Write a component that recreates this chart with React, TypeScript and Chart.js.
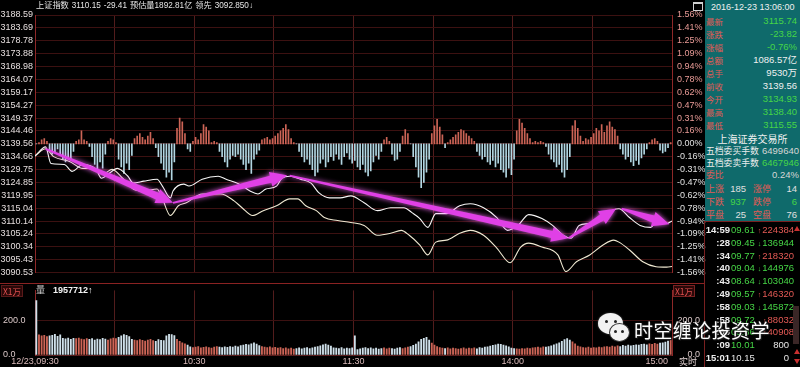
import React, { useEffect, useRef } from 'react';
import { Chart, registerables } from 'chart.js';

Chart.register(...registerables);

const FONT = '"Liberation Sans", "Noto Sans CJK SC", Arial, sans-serif';
const CJK = '"Noto Sans CJK SC", "Liberation Sans", sans-serif';
Chart.defaults.font.family = FONT;

// ---------- axes ----------
const priceTicks = [3188.59, 3183.69, 3178.78, 3173.88, 3168.98, 3164.07, 3159.17, 3154.27, 3149.37, 3144.46, 3139.56, 3134.66, 3129.75, 3124.85, 3119.95, 3115.04, 3110.14, 3105.24, 3100.34, 3095.43, 3090.53];
const pctLabels = ['1.56%', '1.41%', '1.25%', '1.09%', '0.94%', '0.78%', '0.62%', '0.47%', '0.31%', '0.16%', '0.00%', '-0.16%', '-0.31%', '-0.47%', '-0.62%', '-0.78%', '-0.94%', '-1.09%', '-1.25%', '-1.41%', '-1.56%'];
const gridMinutes = [0, 30, 60, 90, 120, 150, 180, 210, 240];
const timeMinutes = [0, 60, 120, 180, 240];
const timeLabels = ['12/23,09:30', '10:30', '11:30', '14:00', '15:00'];
const volTicks = [0, 200];
const volTickLabels = ['0.0', '200.0'];

// ---------- price lines (minute index from 09:30, price) ----------
const minutesA = [0, 4, 6, 11, 14, 18, 23, 25, 28, 31, 35, 37, 41, 46, 48, 51, 52, 56, 58, 63, 69, 72, 77, 81, 84, 87, 91, 93, 96, 100, 104, 107, 111, 115, 119, 124, 129, 134, 139, 142, 145, 148, 151, 155, 160, 164, 169, 174, 178, 182, 186, 191, 195, 199, 202, 205, 209, 213, 218, 220, 224, 228, 232, 234, 238, 240];
const priceA = [3134.93, 3138.40, 3132.07, 3131.70, 3129.08, 3131.70, 3129.83, 3126.46, 3128.33, 3130.20, 3127.21, 3124.59, 3125.34, 3126.09, 3123.47, 3118.97, 3121.59, 3124.21, 3123.47, 3126.09, 3127.21, 3126.09, 3124.21, 3121.59, 3120.47, 3122.34, 3123.47, 3126.46, 3127.21, 3126.09, 3124.59, 3120.85, 3118.97, 3118.97, 3119.72, 3117.10, 3114.11, 3115.23, 3115.23, 3113.36, 3111.11, 3107.74, 3112.99, 3112.99, 3115.98, 3116.73, 3115.23, 3111.49, 3106.62, 3108.49, 3112.61, 3111.11, 3108.49, 3104.75, 3103.63, 3108.49, 3109.24, 3111.49, 3114.48, 3114.86, 3111.49, 3108.49, 3107.74, 3109.62, 3109.20, 3110.15];
const minutesB = [0, 4, 7, 13, 18, 22, 26, 29, 33, 37, 41, 46, 48, 51, 54, 57, 63, 70, 75, 78, 82, 86, 91, 96, 99, 102, 106, 109, 114, 119, 124, 129, 134, 138, 141, 145, 148, 151, 155, 160, 164, 169, 174, 179, 183, 186, 191, 197, 200, 204, 209, 214, 218, 220, 224, 229, 234, 238, 240];
const priceB = [3134.93, 3137.70, 3134.69, 3132.82, 3130.20, 3130.20, 3128.33, 3129.83, 3126.46, 3122.34, 3121.59, 3122.34, 3118.60, 3112.24, 3115.98, 3117.10, 3120.47, 3120.47, 3117.85, 3115.23, 3112.24, 3114.11, 3115.98, 3118.60, 3118.60, 3115.98, 3114.11, 3111.49, 3110.37, 3109.62, 3108.49, 3104.75, 3105.50, 3106.62, 3104.75, 3101.01, 3097.26, 3102.13, 3102.88, 3105.50, 3106.62, 3104.75, 3099.88, 3094.27, 3100.26, 3101.76, 3100.26, 3097.26, 3090.90, 3094.64, 3097.26, 3101.01, 3102.88, 3102.13, 3099.14, 3094.64, 3092.77, 3092.60, 3092.85];

// ---------- buy/sell force bars (one per minute) ----------
const force = [
  0, 1, 3, 4, 2, -5, -8, -7, -4, -8, -12, -14, -10, -13, -6, 2, 3, 10, 3, 2, -2,
  -10, -16, -20, -14, -19, -8, 2, 4, 3, 1, -12, -18, -23, -15, -20, -9,
  4, 6, 8, 5, 3, 6, 9, 4, -3, -10, -15, -20, -26, -22, -28, -14,
  12, 20, 17, 8, -4, -6, 2, 5, 3, 8, 15, 13, 10, 1, 2, 1,
  -6, -10, -14, -18, -12, -9, -10, -8, -12, -16, -20, -15, -23, -12, -8, -5,
  3, 4, 5, 3, 4, 6, 8, 10, 12, 15, 11, 4, 1, 0,
  -6, -10, -14, -12, -16, -20, -25, -22, -15, -12, -18, -14, -10, -13, -8, -12, -16, -10, -7, -12,
  -15, -13, -18, -20, -16, -22, -25, -21, -14, -9, -12, -6,
  3, 5, 2, -8, -13, -12, -6, 6, 11, 8, 0, -10, -18, -26, -34, -30, -22, -12,
  8, 14, 19, 13, 7, -3, 1, 3, 5, 7, 9, 11, 10, 8, 6, 4, 2,
  -6, -9, -12, -10, -14, -16, -13, -18, -15, -20, -22, -26, -19, -24, -12,
  10, 19, 16, 12, 8, 4, 1, 2, 1, 2, 1, -2,
  -8, -12, -14, -18, -16, -22, -26, -20, -10, 14, 18, 12, 6, 2, 4, 3, 5,
  8, 12, 10, 15, 9, 14, 17, 13, 11, 6, -4, -8, -12, -10, -14, -17, -13, -16, -11, -8, -4,
  1, 3, 4, 2, -5, -7, -6, -3, 1,
];

// ---------- volume (x1万, one per minute) ----------
const volume = [
  320, 118, 112, 116, 108, 112, 115, 122, 110, 118,
  98, 95, 100, 92, 98, 96, 100, 94, 90, 97,
  92, 96, 88, 94, 90, 98, 93, 88, 95, 100,
  96, 104, 112, 120, 116, 108,
  92, 88, 84, 90, 86, 82, 88, 92, 85, 80, 90, 86, 84,
  112, 122, 120, 114,
  92, 80, 72, 66, 58,
  48, 44, 46, 50, 42, 45, 48, 44, 40, 46, 50, 47,
  44, 48, 45, 50, 46, 52, 48, 55, 58, 62, 60,
  66, 72, 64,
  55, 50, 46, 44, 48, 42, 45, 40, 44,
  38, 42, 36, 40, 35, 38, 42, 36, 40, 44, 38, 42, 46, 50, 54,
  60, 64, 58, 52,
  42, 40, 38, 44, 36, 40, 38, 42,
  112,
  32, 36, 40, 44, 38, 42, 36, 40, 34, 38, 42, 36, 40, 38, 34, 40, 44, 38, 42, 46,
  50, 56, 64, 78, 92, 98, 104, 88,
  70, 58, 50, 44, 40, 38, 42, 36, 40, 38, 34, 38, 42, 36, 40, 38, 42, 36, 44, 40, 46, 48, 52,
  56, 60, 64, 62, 58, 54, 48,
  40, 38, 36, 34, 38, 36, 40, 38, 42, 44, 46, 42, 48, 46, 50, 54, 60, 66, 72, 80,
  90, 96, 88, 78, 66,
  52, 48, 44, 42, 46, 40, 44, 42, 46, 44, 48, 50, 46, 52, 48, 54, 50, 56, 52, 58, 54,
  56, 60, 58, 62, 64, 60, 66, 62, 68, 64, 70, 72, 76, 82, 88,
];

// ---------- trend arrows (minute, price) ----------
const arrowFromMin = [4, 52, 96, 201, 221];
const arrowFromPrice = [3137.6, 3117.1, 3127.4, 3103.6, 3114.9];
const arrowToMin = [52, 95, 201, 219, 239];
const arrowToPrice = [3117.1, 3127.6, 3103.6, 3114.9, 3108.9];

// ---------- header / info panel texts ----------
const headerItems = ['上证指数', '3110.15', '-29.41', '预估量1892.81亿', '领先', '3092.850↓'];
const infoDate = '2016-12-23 13:06:00';
const infoLabels = ['最新', '涨跌', '涨幅', '总额', '总手', '前收', '今开', '最高', '最低'];
const infoValues = ['3115.74', '-23.82', '-0.76%', '1086.57亿', '9530万', '3139.56', '3134.93', '3138.40', '3115.55'];
const infoValueUp = [0, 0, 0, 2, 2, 2, 0, 0, 0]; // 0 green, 2 white
const exchangeName = '上海证券交易所';
const orderLabels = ['五档委买手数', '五档委卖手数', '委比'];
const orderValues = ['6499640', '6467946', '0.24%'];
const statRows = [
  ['上涨', '185', '涨停', '14'],
  ['下跌', '937', '跌停', '6'],
  ['平盘', '25', '空盘', '76'],
];
const tickTimes = ['14:59', ':28', ':34', ':40', ':43', ':49', ':58', ':58', ':03', ':09', '15:01'];
const tickPrices = ['09.61', '09.45', '09.77', '09.04', '08.64', '09.57', '09.03', '09.72', '09.86', '10.01', '10.15'];
const tickVols = ['224384', '136944', '218320', '144976', '103040', '146320', '145872', '88032', '40908', '800', '0'];
const tickDirs = ['u', 'd', 'u', 'd', 'd', 'u', 'd', 'u', 'u', '', ''];
const volHeader = ['量', '1957712↑'];
const watermarkText = '时空缠论投资学';

const GREEN = '#46d646';
const RED = '#e45a55';
const TEAL = '#0f6a6b';
const BAR_RED = '#cc6456';
const BAR_BLUE = '#b2d6e2';
const PRICE_MIN = priceTicks[priceTicks.length - 1];
const PRICE_MAX = priceTicks[0];

function drawArrow(ctx: CanvasRenderingContext2D, x0: number, y0: number, x1: number, y1: number) {
  const dx = x1 - x0;
  const dy = y1 - y0;
  const len = Math.hypot(dx, dy);
  const ux = dx / len;
  const uy = dy / len;
  const nx = -uy;
  const ny = ux;
  const headLen = Math.min(17, len * 0.45);
  const headW = 7.5;
  const tailW = 0.9;
  const neckW = 3.6;
  const bx = x1 - ux * headLen;
  const by = y1 - uy * headLen;
  ctx.beginPath();
  ctx.moveTo(x0 + nx * tailW, y0 + ny * tailW);
  ctx.lineTo(bx + nx * neckW, by + ny * neckW);
  ctx.lineTo(bx + nx * headW, by + ny * headW);
  ctx.lineTo(x1, y1);
  ctx.lineTo(bx - nx * headW, by - ny * headW);
  ctx.lineTo(bx - nx * neckW, by - ny * neckW);
  ctx.lineTo(x0 - nx * tailW, y0 - ny * tailW);
  ctx.closePath();
  ctx.fill();
}

const xMinuteScale = {
  type: 'linear',
  min: 0,
  max: 240,
  offset: false,
  afterBuildTicks: (s: any) => {
    s.ticks = gridMinutes.map((v) => ({ value: v }));
  },
  ticks: { display: false },
  grid: { color: '#521c1c', drawTicks: false, offset: false },
  afterFit: (s: any) => {
    s.height = 0;
  },
};

function PriceChart() {
  const ref = useRef<HTMLCanvasElement | null>(null);
  useEffect(() => {
    if (!ref.current) return;
    const arrowPlugin = {
      id: 'trendArrows',
      afterDatasetsDraw(chart: any) {
        const { ctx } = chart;
        const xs = chart.scales.x;
        const ys = chart.scales.y;
        ctx.save();
        ctx.shadowColor = 'rgba(255,110,255,0.9)';
        ctx.shadowBlur = 5;
        ctx.fillStyle = '#e040e6';
        for (let i = 0; i < arrowFromMin.length; i++) {
          drawArrow(
            ctx,
            xs.getPixelForValue(arrowFromMin[i]),
            ys.getPixelForValue(arrowFromPrice[i]),
            xs.getPixelForValue(arrowToMin[i]),
            ys.getPixelForValue(arrowToPrice[i])
          );
        }
        ctx.restore();
      },
    };
    const chart = new Chart(ref.current, {
      type: 'line',
      data: {
        datasets: [
          {
            type: 'bar',
            data: force.map((v, i) => ({ x: i + 0.5, y: v })),
            yAxisID: 'yF',
            backgroundColor: force.map((v) => (v > 0 ? BAR_RED : BAR_BLUE)),
            barThickness: 1,
            order: 3,
          } as any,
          {
            type: 'line',
            data: minutesB.map((m, i) => ({ x: m, y: priceB[i] })),
            yAxisID: 'y',
            borderColor: '#efe9d2',
            borderWidth: 1.1,
            pointRadius: 0,
            cubicInterpolationMode: 'monotone',
            order: 2,
          },
          {
            type: 'line',
            data: minutesA.map((m, i) => ({ x: m, y: priceA[i] })),
            yAxisID: 'y',
            borderColor: '#f6f6f6',
            borderWidth: 1.1,
            pointRadius: 0,
            cubicInterpolationMode: 'monotone',
            order: 1,
          },
        ],
      },
      options: {
        animation: false,
        responsive: false,
        maintainAspectRatio: false,
        layout: { padding: { top: 15, bottom: 6, left: 0, right: 0 } },
        plugins: { legend: { display: false }, tooltip: { enabled: false } },
        scales: {
          x: { ...xMinuteScale, border: { display: false } },
          y: {
            position: 'left',
            min: PRICE_MIN,
            max: PRICE_MAX,
            afterBuildTicks: (s: any) => {
              s.ticks = priceTicks.map((v) => ({ value: v }));
            },
            ticks: {
              autoSkip: false,
              color: '#e6dede',
              font: { size: 9 },
              padding: 2,
              callback: (v: any) => Number(v).toFixed(2),
            },
            grid: { color: '#3c1111', drawTicks: false },
            border: { color: '#8e2828' },
            afterFit: (s: any) => {
              s.width = 35;
            },
          },
          yP: {
            position: 'right',
            min: PRICE_MIN,
            max: PRICE_MAX,
            afterBuildTicks: (s: any) => {
              s.ticks = priceTicks.map((v) => ({ value: v }));
            },
            ticks: {
              autoSkip: false,
              color: (c: any) => (c.index < 10 ? '#e89a96' : '#e0e0e0'),
              font: { size: 9 },
              padding: 5,
              callback: (_v: any, i: number) => pctLabels[i],
            },
            grid: { display: false, drawTicks: false },
            border: { color: '#8e2828' },
            afterFit: (s: any) => {
              s.width = 40;
            },
          },
          yF: { display: false, min: -100, max: 100 },
        },
      } as any,
      plugins: [arrowPlugin],
    });
    return () => chart.destroy();
  }, []);
  return <canvas ref={ref} width={712} height={283} style={{ position: 'absolute', left: 0, top: 0, display: 'block' }} />;
}

function VolumeChart() {
  const ref = useRef<HTMLCanvasElement | null>(null);
  useEffect(() => {
    if (!ref.current) return;
    const timeLabelPlugin = {
      id: 'timeLabels',
      afterDraw(chart: any) {
        const { ctx, chartArea } = chart;
        const xs = chart.scales.x;
        ctx.save();
        ctx.font = `9px ${FONT}`;
        ctx.fillStyle = '#dcbcbc';
        ctx.textBaseline = 'middle';
        ctx.textAlign = 'left';
        timeMinutes.forEach((m, i) => {
          const label = timeLabels[i];
          const w = ctx.measureText(label).width;
          let left = xs.getPixelForValue(m) - w / 2;
          left = Math.min(left, chartArea.right - 4 - w);
          left = Math.max(left, 0);
          ctx.fillText(label, left, chartArea.bottom + 7);
        });
        ctx.restore();
      },
    };
    const chart = new Chart(ref.current, {
      type: 'bar',
      data: {
        datasets: [
          {
            data: volume.map((v, i) => ({ x: i + 0.5, y: v })),
            backgroundColor: volume.map((_v, i) => (force[i] > 0 ? BAR_RED : '#cfe0ea')),
            barThickness: 1.2,
          } as any,
        ],
      },
      options: {
        animation: false,
        responsive: false,
        maintainAspectRatio: false,
        layout: { padding: { top: 0, bottom: 12, left: 3, right: 12 } },
        plugins: { legend: { display: false }, tooltip: { enabled: false } },
        scales: {
          x: { ...xMinuteScale, border: { color: '#5a1c1c' } },
          y: {
            position: 'left',
            min: 0,
            max: 379,
            afterBuildTicks: (s: any) => {
              s.ticks = volTicks.map((v) => ({ value: v }));
            },
            ticks: {
              autoSkip: false,
              crossAlign: 'far',
              color: '#dccaca',
              font: { size: 9 },
              padding: 2,
              callback: (_v: any, i: number) => volTickLabels[i],
            },
            grid: { color: '#3c1111', drawTicks: false },
            border: { color: '#8e2828' },
            afterFit: (s: any) => {
              s.width = 32;
            },
          },
          yR: {
            position: 'right',
            min: 0,
            max: 379,
            afterBuildTicks: (s: any) => {
              s.ticks = volTicks.map((v) => ({ value: v }));
            },
            ticks: {
              autoSkip: false,
              crossAlign: 'far',
              color: '#dccaca',
              font: { size: 9 },
              padding: 2,
              callback: (_v: any, i: number) => volTickLabels[i],
            },
            grid: { display: false, drawTicks: false },
            border: { color: '#8e2828' },
            afterFit: (s: any) => {
              s.width = 28;
            },
          },
        },
      } as any,
      plugins: [timeLabelPlugin],
    });
    return () => chart.destroy();
  }, []);
  return <canvas ref={ref} width={712} height={84} style={{ position: 'absolute', left: 0, top: 283, display: 'block' }} />;
}

const abs = (s: React.CSSProperties): React.CSSProperties => ({ position: 'absolute', whiteSpace: 'nowrap', ...s });

function Header() {
  return (
    <>
      <div style={abs({ left: 36, top: 0, height: 12, lineHeight: '12px', fontSize: 8.2, color: '#e4e4e4', fontFamily: FONT })}>
        {headerItems.map((t, i) => (
          <span key={i} style={{ marginRight: 3 }}>{t}</span>
        ))}
      </div>
      <div style={abs({ left: 693, top: 2, width: 8, height: 6, border: '1px solid #cfcfcf', borderTopWidth: 2 })} />
    </>
  );
}

function InfoPanel() {
  const rowTop = (i: number) => 15 + 13 * i;
  return (
    <div style={abs({ left: 705, top: 0, width: 95, height: 221, background: TEAL })}>
      <div style={abs({ left: 6, top: 1, fontSize: 9, lineHeight: '12px', color: '#f0f0f0', fontFamily: FONT })}>{infoDate}</div>
      {infoLabels.map((l, i) => (
        <React.Fragment key={l}>
          <div style={abs({ left: 1, top: rowTop(i), fontSize: 8.5, lineHeight: '12px', color: RED, fontFamily: CJK })}>{l}</div>
          <div style={abs({ right: 3, top: rowTop(i), fontSize: 9.5, lineHeight: '12px', color: infoValueUp[i] === 2 ? '#f0f0f0' : GREEN, fontFamily: FONT })}>{infoValues[i]}</div>
        </React.Fragment>
      ))}
      <div style={abs({ left: 0, width: 95, textAlign: 'center', top: 133, fontSize: 10, lineHeight: '12px', color: '#f0f0f0', fontFamily: CJK })}>{exchangeName}</div>
      {orderLabels.map((l, i) => (
        <React.Fragment key={l}>
          <div style={abs({ left: 1, top: 145 + 12 * i, fontSize: 8.8, lineHeight: '12px', color: i === 2 ? RED : '#ececec', fontFamily: CJK })}>{l}</div>
          <div style={abs({ right: 1, top: 145 + 12 * i, fontSize: 9.5, lineHeight: '12px', color: i === 1 ? GREEN : '#d6d6d6', fontFamily: FONT })}>{orderValues[i]}</div>
        </React.Fragment>
      ))}
      {statRows.map((r, i) => (
        <React.Fragment key={r[0]}>
          <div style={abs({ left: 1, top: 183 + 13 * i, fontSize: 9, lineHeight: '12px', color: RED, fontFamily: CJK })}>{r[0]}</div>
          <div style={abs({ right: 54, top: 183 + 13 * i, fontSize: 9.5, lineHeight: '12px', color: i === 1 ? GREEN : '#e0e0e0', fontFamily: FONT })}>{r[1]}</div>
          <div style={abs({ left: 48, top: 183 + 13 * i, fontSize: 9, lineHeight: '12px', color: RED, fontFamily: CJK })}>{r[2]}</div>
          <div style={abs({ right: 3, top: 183 + 13 * i, fontSize: 9.5, lineHeight: '12px', color: i === 1 ? GREEN : '#e0e0e0', fontFamily: FONT })}>{r[3]}</div>
        </React.Fragment>
      ))}
    </div>
  );
}

function TickList() {
  return (
    <>
      <div style={abs({ left: 704, top: 221, width: 1, height: 146, background: '#7a2020' })} />
      <div style={abs({ left: 704, top: 221, width: 96, height: 1, background: '#7a2020' })} />
      {tickTimes.map((t, i) => {
        const top = 224 + 12.8 * i;
        const dir = tickDirs[i];
        const vc = dir === 'u' ? RED : dir === 'd' ? GREEN : '#e6e6e6';
        return (
          <React.Fragment key={i}>
            <div style={abs({ right: 800 - 730, top, fontSize: 9.5, lineHeight: '12px', color: '#ededed', fontFamily: FONT, fontWeight: 'bold' })}>{t}</div>
            <div style={abs({ left: 731, top, fontSize: 9.5, lineHeight: '12px', color: i < 10 ? GREEN : '#e6e6e6', fontFamily: FONT })}>{tickPrices[i]}</div>
            <div style={abs({ right: dir ? 6 : 11, top, fontSize: 9.5, lineHeight: '12px', color: vc, fontFamily: FONT })}>
              {dir ? <span style={{ fontSize: 7, marginRight: 1 }}>{dir === 'u' ? '↑' : '↓'}</span> : null}
              {tickVols[i]}
            </div>
          </React.Fragment>
        );
      })}
      <div style={abs({ left: 794, top: 226, width: 0, height: 0, borderLeft: '3px solid transparent', borderRight: '3px solid transparent', borderBottom: '5px solid #c83030' })} />
      <div style={abs({ left: 793, top: 306, width: 6, height: 38, background: '#3a2626' })} />
      <div style={abs({ left: 794, top: 349, width: 0, height: 0, borderLeft: '3px solid transparent', borderRight: '3px solid transparent', borderBottom: '5px solid #c83030' })} />
      <div style={abs({ left: 794, top: 359, width: 0, height: 0, borderLeft: '3px solid transparent', borderRight: '3px solid transparent', borderTop: '5px solid #c83030' })} />
    </>
  );
}

function VolumeLabels() {
  return (
    <>
      <div style={abs({ left: 0, top: 283, width: 704, height: 1, background: '#8a2222' })} />
      <div style={abs({ left: 1, top: 285, padding: '0 1px', fontSize: 8.5, lineHeight: '10px', color: '#e05050', background: '#2a0808', border: '1px solid #5a1a1a', fontFamily: CJK })}>X1万</div>
      <div style={abs({ left: 673, top: 285, padding: '0 1px', fontSize: 8.5, lineHeight: '10px', color: '#e05050', background: '#2a0808', border: '1px solid #7a2222', fontFamily: CJK })}>X1万</div>
      <div style={abs({ left: 36, top: 284, fontSize: 9, lineHeight: '12px', color: '#cfcfcf', fontFamily: CJK })}>{volHeader[0]}</div>
      <div style={abs({ left: 53, top: 284, fontSize: 9, lineHeight: '12px', color: '#f4f4f4', fontWeight: 'bold', fontFamily: FONT })}>{volHeader[1]}</div>
      <div style={abs({ left: 679, top: 356, fontSize: 9, lineHeight: '11px', color: '#e0d0d0', fontFamily: CJK })}>实时</div>
    </>
  );
}

function Watermark() {
  return (
    <>
      <div style={abs({ left: 598, top: 313, width: 25, height: 21, borderRadius: '50%', background: '#f2f2f2', boxShadow: '0 0 2px #555' })} />
      <div style={abs({ left: 605, top: 320, width: 3, height: 3, borderRadius: '50%', background: '#222' })} />
      <div style={abs({ left: 614, top: 320, width: 3, height: 3, borderRadius: '50%', background: '#222' })} />
      <div style={abs({ left: 609, top: 323, width: 19, height: 17, borderRadius: '50%', background: '#f2f2f2', border: '1.5px solid #333' })} />
      <div style={abs({ left: 614, top: 330, width: 3, height: 3, borderRadius: '50%', background: '#222' })} />
      <div style={abs({ left: 621, top: 330, width: 3, height: 3, borderRadius: '50%', background: '#222' })} />
      <div style={abs({ left: 634, top: 318, fontSize: 19, lineHeight: '24px', letterSpacing: 0.4, color: '#ffffff', fontFamily: CJK, textShadow: '0 0 2px #333, 1px 1px 1px #222' })}>{watermarkText}</div>
    </>
  );
}

export default function App() {
  return (
    <div style={{ position: 'relative', width: 800, height: 367, background: '#000', overflow: 'hidden', fontFamily: FONT }}>
      <style>{'html,body{margin:0;padding:0;background:#000;}'}</style>
      <PriceChart />
      <VolumeChart />
      <Header />
      <VolumeLabels />
      <InfoPanel />
      <TickList />
      <Watermark />
    </div>
  );
}
